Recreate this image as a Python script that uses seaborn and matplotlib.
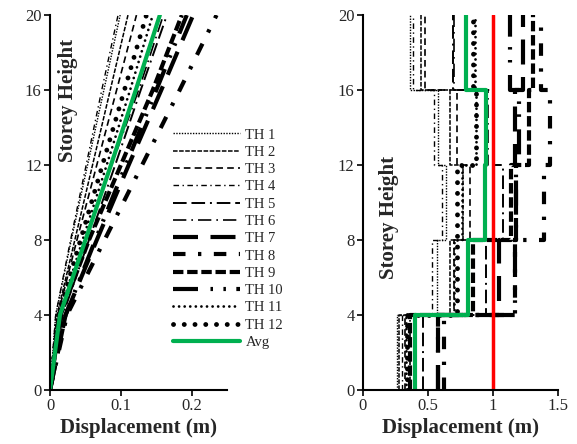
from matplotlib import pyplot as plt
import seaborn as sns
import numpy as np

# storey levels
heights = [0, 4, 8, 12, 16, 20]
labels = ["TH 1", "TH 2", "TH 3", "TH 4", "TH 5", "TH 6",
          "TH 7", "TH 8", "TH 9", "TH 10", "TH 11", "TH 12"]

# left panel: cumulative displacement at each level (m)
th1 = [0, 0.008, 0.030, 0.053, 0.076, 0.099]
th2 = [0, 0.010, 0.035, 0.060, 0.085, 0.110]
th3 = [0, 0.011, 0.038, 0.066, 0.094, 0.122]
th4 = [0, 0.008, 0.029, 0.051, 0.073, 0.096]
th5 = [0, 0.018, 0.055, 0.092, 0.128, 0.165]
th6 = [0, 0.014, 0.049, 0.087, 0.125, 0.160]
th7 = [0, 0.022, 0.066, 0.111, 0.157, 0.202]
th8 = [0, 0.024, 0.077, 0.130, 0.183, 0.235]
th9 = [0, 0.015, 0.055, 0.100, 0.145, 0.186]
th10 = [0, 0.022, 0.064, 0.107, 0.150, 0.193]
th11 = [0, 0.013, 0.046, 0.080, 0.113, 0.145]
th12 = [0, 0.012, 0.043, 0.074, 0.105, 0.136]
avgDisp = [0, 0.014, 0.050, 0.086, 0.121, 0.155]

# right panel: value per storey (0-4, 4-8, 8-12, 12-16, 16-20)
st1 = [0.26, 0.57, 0.64, 0.58, 0.36]
st2 = [0.28, 0.67, 0.77, 0.67, 0.45]
st3 = [0.32, 0.70, 0.82, 0.72, 0.48]
st4 = [0.30, 0.53, 0.61, 0.55, 0.385]
st5 = [0.46, 0.95, 1.08, 1.00, 0.69]
st6 = [0.36, 0.81, 0.94, 0.96, 0.70]
st7 = [0.58, 1.05, 1.18, 1.17, 1.23]
st8 = [0.62, 1.17, 1.39, 1.44, 1.37]
st9 = [0.36, 0.85, 1.14, 1.28, 1.31]
st10 = [0.58, 1.17, 1.18, 1.20, 1.13]
st11 = [0.33, 0.70, 0.76, 0.87, 0.86]
st12 = [0.34, 0.72, 0.72, 0.87, 0.85]
avgStorey = [0.40, 0.81, 0.94, 0.95, 0.79]
limitValue = 1.0

leftData = [th1, th2, th3, th4, th5, th6, th7, th8, th9, th10, th11, th12]
rightData = [st1, st2, st3, st4, st5, st6, st7, st8, st9, st10, st11, st12]

# (linewidth, dashes, capstyle)
styles = [
    (1.0, (0, (1, 1)), "butt"),
    (1.1, (0, (3, 1)), "butt"),
    (1.2, (0, (4, 2.5)), "butt"),
    (1.0, (0, (4, 2.5, 1, 2.5)), "butt"),
    (1.4, (0, (7, 2.5, 7, 2.5, 1, 2.5)), "butt"),
    (1.2, (0, (8, 3, 1, 3)), "butt"),
    (3.0, (0, (6, 3)), "butt"),
    (3.0, (0, (3, 3, 0.8, 3)), "butt"),
    (3.0, (0, (2.5, 0.9)), "butt"),
    (3.0, (0, (6, 3, 0.6, 2.5, 0.6, 2.5)), "butt"),
    (2.0, (0, (0.01, 2.0)), "round"),
    (3.5, (0, (0.01, 2.2)), "round"),
]
green = "#00B050"

sns.set_style("ticks")
plt.rcParams["font.family"] = ["Liberation Serif", "DejaVu Serif"]

fig = plt.figure(figsize=(5.77, 4.44), dpi=100)
ax1 = fig.add_axes([0.0867, 0.122, 0.307, 0.844])
ax2 = fig.add_axes([0.629, 0.122, 0.338, 0.844])

# left panel
for vals, lab, (lw, ls, cap) in zip(leftData, labels, styles):
    sns.lineplot(x=vals, y=heights, sort=False, estimator=None, ax=ax1, color="black",
                 linewidth=lw, linestyle=ls, dash_capstyle=cap, label=lab)
sns.lineplot(x=avgDisp, y=heights, sort=False, estimator=None, ax=ax1, color=green,
             linewidth=3, label="Avg")

# right panel, step profiles
def stepXY(vals):
    xs, ys = [], []
    for i, v in enumerate(vals):
        xs += [v, v]
        ys += [heights[i], heights[i + 1]]
    return xs, ys

for vals, (lw, ls, cap) in zip(rightData, styles):
    xs, ys = stepXY(vals)
    sns.lineplot(x=xs, y=ys, sort=False, estimator=None, ax=ax2, color="black",
                 linewidth=lw, linestyle=ls, dash_capstyle=cap)
xs, ys = stepXY(avgStorey)
sns.lineplot(x=xs, y=ys, sort=False, estimator=None, ax=ax2, color=green, linewidth=3)
ax2.axvline(limitValue, color="#FF0000", linewidth=2.5)

for ax in (ax1, ax2):
    sns.despine(ax=ax)
    ax.set_ylim(0, 20)
    ax.set_yticks(heights)
    ax.set_yticklabels([str(h) for h in heights])
    for sp in ("left", "bottom"):
        ax.spines[sp].set_linewidth(1.5)
        ax.spines[sp].set_color("black")
    ax.tick_params(axis="both", labelsize=12, width=1.2, length=4, color="black", pad=2)
    ax.set_xlabel("Displacement (m)", fontsize=15, fontweight="bold", labelpad=3)
    ax.set_ylabel("")

ax1.set_xlim(0, 0.25)
ax1.set_xticks([0, 0.1, 0.2])
ax1.set_xticklabels(["0", "0.1", "0.2"])
ax2.set_xlim(0, 1.5)
ax2.set_xticks([0, 0.5, 1, 1.5])
ax2.set_xticklabels(["0", "0.5", "1", "1.5"])

ax1.text(0.1, 0.773, "Storey Height", transform=ax1.transAxes, rotation=90,
         ha="center", va="center", fontsize=15, fontweight="bold")
ax2.text(0.133, 0.461, "Storey Height", transform=ax2.transAxes, rotation=90,
         ha="center", va="center", fontsize=15, fontweight="bold")

ax1.get_legend().remove()
h, l = ax1.get_legend_handles_labels()
fig.legend(h, l, loc="upper left", bbox_to_anchor=(0.299, 0.711), frameon=False,
           fontsize=10.5, handlelength=4.6, handletextpad=0.4, labelspacing=0.28,
           borderpad=0, borderaxespad=0)

fig.savefig("out.png", dpi=100)
